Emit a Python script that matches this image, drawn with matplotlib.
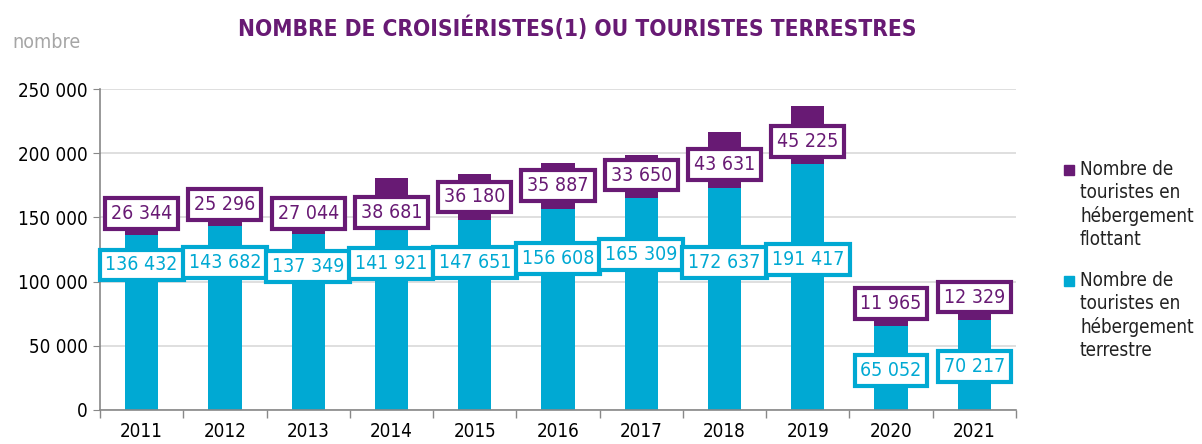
import matplotlib
matplotlib.use("Agg")
import matplotlib.pyplot as plt
import numpy as np
from matplotlib.patches import Rectangle
from matplotlib.ticker import FuncFormatter, FixedLocator

plt.rcParams["font.family"] = ["DejaVu Sans"]
plt.rcParams["font.stretch"] = "condensed"

years = ["2011", "2012", "2013", "2014", "2015", "2016",
         "2017", "2018", "2019", "2020", "2021"]
terrestre = [136432, 143682, 137349, 141921, 147651, 156608,
             165309, 172637, 191417, 65052, 70217]
flottant = [26344, 25296, 27044, 38681, 36180, 35887,
            33650, 43631, 45225, 11965, 12329]

# label anchor heights (as placed by hand in the original)
terrestre_label_y = [113000, 115000, 112000, 114000, 115000, 118000,
                     121000, 115000, 117000, 31000, 34000]
flottant_label_y = [153000, 160000, 153000, 154000, 166000, 175000,
                    183000, 191000, 209000, 83000, 88000]

legend_labels = ["Nombre de\ntouristes en\nhébergement\nflottant",
                 "Nombre de\ntouristes en\nhébergement\nterrestre"]

PURPLE = "#681a74"
CYAN = "#00a9d3"


def fmt(v):
    return f"{v:,}".replace(",", " ")


fig = plt.figure(figsize=(12.02, 4.44), dpi=100)
ax = fig.add_axes([0.0832, 0.0766, 0.762, 0.7229])

x = np.arange(len(years))
ax.bar(x, terrestre, width=0.4, color=CYAN, zorder=2)
ax.bar(x, flottant, width=0.4, bottom=terrestre, color=PURPLE, zorder=2)

for xi, v, y in zip(x, terrestre, terrestre_label_y):
    ax.text(xi, y, fmt(v), ha="center", va="center", fontsize=14, color=CYAN,
            zorder=4,
            bbox=dict(boxstyle="square,pad=0.3", fc="white", ec=CYAN, lw=3))
for xi, v, y in zip(x, flottant, flottant_label_y):
    ax.text(xi, y, fmt(v), ha="center", va="center", fontsize=14, color=PURPLE,
            zorder=4,
            bbox=dict(boxstyle="square,pad=0.3", fc="white", ec=PURPLE, lw=3))

ax.set_xlim(-0.5, len(years) - 0.5)
ax.set_ylim(0, 250000)
ax.set_yticks(np.arange(0, 250001, 50000))
ax.yaxis.set_major_formatter(FuncFormatter(lambda v, p: fmt(int(v))))
ax.set_xticks(x)
ax.set_xticklabels(years)
ax.xaxis.set_minor_locator(FixedLocator(np.arange(-0.5, len(years), 1.0)))
ax.tick_params(axis="x", which="major", length=0, labelsize=13.5, pad=9)
ax.tick_params(axis="x", which="minor", length=6, color="#888888", width=1)
ax.tick_params(axis="y", length=5, color="#888888", labelsize=13.5, pad=4)

ax.grid(axis="y", color="#d9d9d9", lw=1.2, zorder=0)
ax.set_axisbelow(True)
for side in ("top", "right"):
    ax.spines[side].set_visible(False)
for side in ("left", "bottom"):
    ax.spines[side].set_color("#888888")
    ax.spines[side].set_linewidth(1.2)

# legend drawn by hand: square marker level with the first text line
for i, (label, color) in enumerate(zip(legend_labels, [PURPLE, CYAN])):
    y_top = 1 - (160 + 111 * i) / 444
    fig.patches.append(Rectangle((1064 / 1202, y_top - 15 / 444), 10 / 1202,
                                 10 / 444, transform=fig.transFigure,
                                 color=color))
    fig.text(1080 / 1202, y_top, label, ha="left", va="top", fontsize=13.5,
             linespacing=1.27, color="#222222")

fig.text(0.4805, 0.936, "NOMBRE DE CROISIÉRISTES(1) OU TOURISTES TERRESTRES",
         ha="center", va="center", fontsize=16.3, fontweight="bold",
         color=PURPLE)
fig.text(0.010, 0.905, "nombre", ha="left", va="center", fontsize=14,
         color="#a6a6a6")

fig.savefig("out.png", dpi=100)
